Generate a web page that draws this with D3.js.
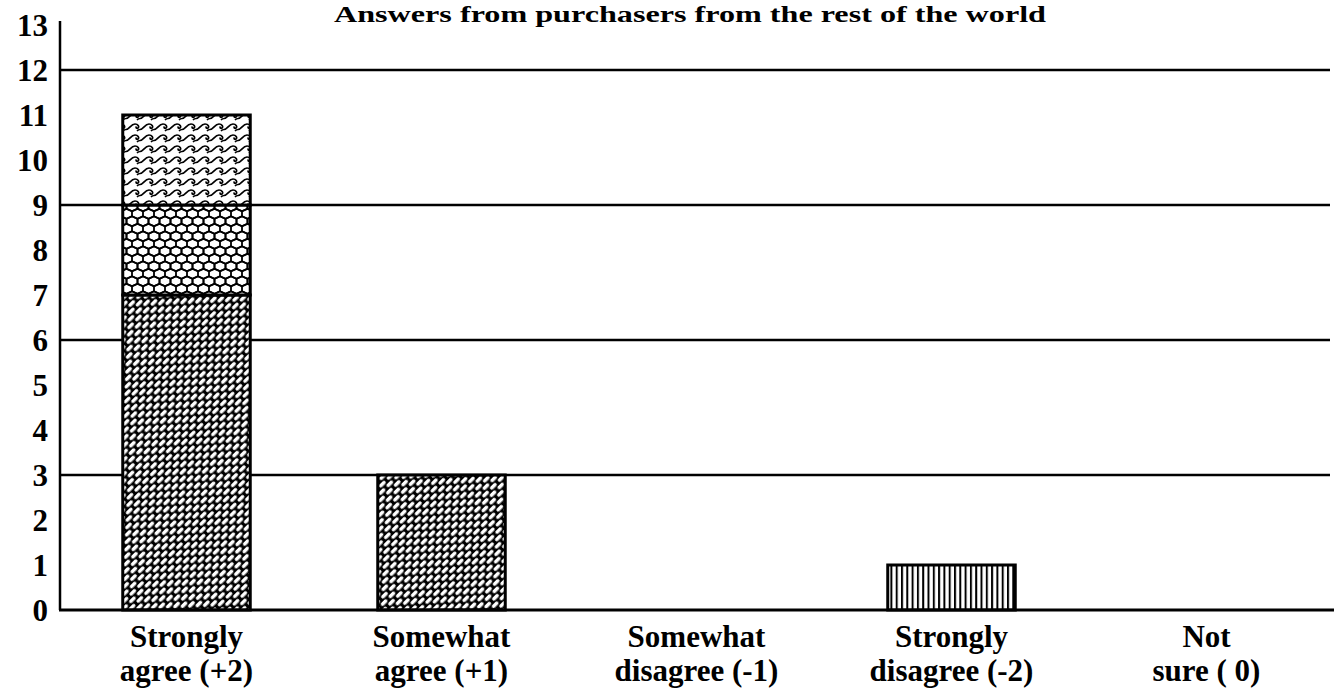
<!DOCTYPE html>
<html><head><meta charset="utf-8">
<script src="https://cdn.jsdelivr.net/npm/d3@7/dist/d3.min.js"></script>
<style>
html,body{margin:0;padding:0;background:#fff;}
svg{display:block;}
text{font-family:"Liberation Serif","Times New Roman",serif;font-weight:bold;fill:#000;}
</style></head>
<body>
<svg id="chart" width="1338" height="690"></svg>
<script>
const title = "Answers from purchasers from the rest of the world";
const categories = ["Strongly agree (+2)", "Somewhat agree (+1)", "Somewhat disagree (-1)", "Strongly disagree (-2)", "Not sure ( 0)"];
const categoryLines = [["Strongly","agree (+2)"],["Somewhat","agree (+1)"],["Somewhat","disagree (-1)"],["Strongly","disagree (-2)"],["Not","sure (  0)"]];
const seriesNames = ["brick", "hex", "wave", "vlines"];
const brickValues = [7, 3, 0, 0, 0];
const hexValues   = [2, 0, 0, 0, 0];
const waveValues  = [2, 0, 0, 0, 0];
const vlineValues = [0, 0, 0, 1, 0];
const yTicks = [0,1,2,3,4,5,6,7,8,9,10,11,12,13];
const gridTicks = [3,6,9,12];

const svg = d3.select("#chart");
const defs = svg.append("defs");

// patterns
const pb = defs.append("pattern").attr("id","p-brick").attr("patternUnits","userSpaceOnUse")
  .attr("width",11).attr("height",10).attr("patternTransform","rotate(-45)");
pb.append("rect").attr("width",11).attr("height",10).attr("fill","#000");
[[1,1],[6.5,6],[-4.5,6]].forEach(([bx,by])=>{
  pb.append("rect").attr("x",bx).attr("y",by).attr("width",8).attr("height",3.4).attr("rx",1.6).attr("fill","#fff");
});

const hw = 5.5, hh = 5.0;
const ph = defs.append("pattern").attr("id","p-hex").attr("patternUnits","userSpaceOnUse")
  .attr("width",2*hw).attr("height",3*hh);
ph.append("rect").attr("width",2*hw).attr("height",3*hh).attr("fill","#fff");
function hexPath(cx, cy){
  return `M${cx},${cy-hh} L${cx+hw},${cy-hh/2} L${cx+hw},${cy+hh/2} L${cx},${cy+hh} L${cx-hw},${cy+hh/2} L${cx-hw},${cy-hh/2} Z`; }
[[hw,hh*0.75],[0,hh*2.25],[2*hw,hh*2.25],[hw,hh*3.75],[0,-hh*0.75],[2*hw,-hh*0.75]].forEach(([x,y])=>{
  ph.append("path").attr("d",hexPath(x,y)).attr("fill","none").attr("stroke","#000").attr("stroke-width",1.8);
});

const pw = defs.append("pattern").attr("id","p-wave").attr("patternUnits","userSpaceOnUse")
  .attr("width",14).attr("height",11);
pw.append("rect").attr("width",14).attr("height",11).attr("fill","#fff");
[[0,0],[0,11],[0,-11],[14,0],[-14,0],[14,11],[-14,-11],[14,-11],[-14,11]].forEach(([dx,dy])=>{
  pw.append("path").attr("transform",`translate(${dx},${dy})`)
    .attr("d","M0,8.5 C3,8.5 5,3 9,3 C12,3 13.5,5.5 12,7 C11,7.8 9.5,7 10.5,5.5 M0,8.5 C-1,8.5 -2,9 -3,10")
    .attr("fill","none").attr("stroke","#000").attr("stroke-width",1.7);
});

const pv = defs.append("pattern").attr("id","p-vlines").attr("patternUnits","userSpaceOnUse")
  .attr("width",5.3).attr("height",10);
pv.append("rect").attr("width",5.3).attr("height",10).attr("fill","#fff");
pv.append("rect").attr("x",0).attr("width",2).attr("height",10).attr("fill","#000");

const fills = {brick:"url(#p-brick)", hex:"url(#p-hex)", wave:"url(#p-wave)", vlines:"url(#p-vlines)"};

const x = d3.scaleBand().domain(categories).range([59, 1334]).paddingInner(0.5).paddingOuter(0.25);
const y = d3.scaleLinear().domain([0, 12]).range([610, 70]);

// gridlines
svg.append("g").selectAll("line").data(gridTicks).join("line")
  .attr("x1", 60).attr("x2", 1330).attr("y1", d=>y(d)).attr("y2", d=>y(d))
  .attr("stroke","#000").attr("stroke-width",2.5);

// stacked data
const rows = categories.map((c,i)=>({cat:c, brick:brickValues[i], hex:hexValues[i], wave:waveValues[i], vlines:vlineValues[i]}));
const stack = d3.stack().keys(seriesNames)(rows);

svg.append("g").selectAll("g").data(stack).join("g")
  .attr("fill", s=>fills[s.key])
  .selectAll("rect").data(s=>s.filter(d=>d[1]-d[0]>0)).join("rect")
  .attr("x", d=>x(d.data.cat)).attr("width", x.bandwidth())
  .attr("y", d=>y(d[1])).attr("height", d=>y(d[0])-y(d[1]))
  .attr("stroke","#000").attr("stroke-width",3);

// y axis
const yAxis = d3.axisLeft(y).tickValues(yTicks).tickSize(0).tickPadding(12).tickFormat(d3.format("d"));
const ga = svg.append("g").attr("transform","translate(60,0)").call(yAxis);
ga.select(".domain").remove();
ga.selectAll("text").attr("font-size",31).attr("font-family","Liberation Serif").attr("font-weight","bold").attr("dy","0.35em");
svg.append("line").attr("x1",60).attr("x2",60).attr("y1",y(13)-4).attr("y2",y(0)).attr("stroke","#000").attr("stroke-width",2.5);
svg.append("line").attr("x1",59).attr("x2",1334).attr("y1",y(0)).attr("y2",y(0)).attr("stroke","#000").attr("stroke-width",3);

// x labels
const xl = svg.append("g").selectAll("text").data(categories).join("text")
  .attr("text-anchor","middle").attr("font-size",31)
  .attr("x", d=>x(d)+x.bandwidth()/2);
xl.append("tspan").attr("x", d=>x(d)+x.bandwidth()/2).attr("y",647).text((d,i)=>categoryLines[i][0]);
xl.append("tspan").attr("x", d=>x(d)+x.bandwidth()/2).attr("y",681).text((d,i)=>categoryLines[i][1]);

// title
svg.append("text").attr("x",690).attr("y",22).attr("text-anchor","middle").attr("font-size",24)
  .attr("textLength",712).attr("lengthAdjust","spacingAndGlyphs").text(title);
</script>
</body></html>
